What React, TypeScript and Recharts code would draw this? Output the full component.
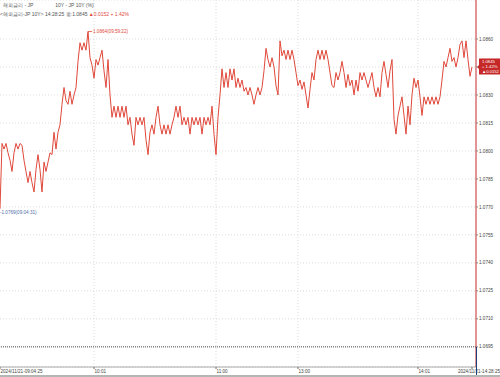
import { LineChart, Line, XAxis, YAxis, CartesianGrid, ReferenceLine, ReferenceDot } from 'recharts';

/* ── Data ─────────────────────────────────────────────────────────────── */

const symbol = '해외금리-JP 10Y';
const lastTime = '14:28:25';
const change = 0.0152;
const changePct = 1.42;
const highTime = '09:59:22';
const lowTime = '09:04:31';

// JP 10Y yield, one sample per step (09:04:25 → 14:28:25)
const prices = [
  1.0769, 1.0804, 1.0801, 1.0804, 1.0799, 1.0795, 1.0789, 1.0799, 1.0804, 1.0801,
  1.0804, 1.0803, 1.0795, 1.0789, 1.0783, 1.0789, 1.0783, 1.0778, 1.0790, 1.0798,
  1.0790, 1.0778, 1.0794, 1.0789, 1.0794, 1.0799, 1.0798, 1.0810, 1.0801, 1.0810,
  1.0814, 1.0825, 1.0834, 1.0827, 1.0825, 1.0832, 1.0825, 1.0830, 1.0834, 1.0848,
  1.0858, 1.0854, 1.0858, 1.0854, 1.0864, 1.0850, 1.0846, 1.0839, 1.0849, 1.0846,
  1.0850, 1.0854, 1.0843, 1.0834, 1.0849, 1.0830, 1.0818, 1.0824, 1.0818, 1.0824,
  1.0818, 1.0824, 1.0818, 1.0824, 1.0814, 1.0818, 1.0809, 1.0803, 1.0818, 1.0814,
  1.0818, 1.0814, 1.0818, 1.0806, 1.0798, 1.0810, 1.0814, 1.0809, 1.0818, 1.0824,
  1.0814, 1.0809, 1.0814, 1.0809, 1.0814, 1.0809, 1.0814, 1.0818, 1.0824, 1.0818,
  1.0824, 1.0814, 1.0818, 1.0814, 1.0818, 1.0809, 1.0818, 1.0814, 1.0818, 1.0814,
  1.0818, 1.0809, 1.0818, 1.0814, 1.0818, 1.0814, 1.0824, 1.0809, 1.0798, 1.0818,
  1.0830, 1.0844, 1.0834, 1.0842, 1.0834, 1.0844, 1.0838, 1.0844, 1.0834, 1.0839,
  1.0834, 1.0838, 1.0832, 1.0834, 1.0830, 1.0834, 1.0830, 1.0825, 1.0830, 1.0834,
  1.0830, 1.0834, 1.0843, 1.0855, 1.0849, 1.0845, 1.0850, 1.0845, 1.0835, 1.0830,
  1.0859, 1.0851, 1.0854, 1.0849, 1.0854, 1.0849, 1.0854, 1.0849, 1.0842, 1.0835,
  1.0838, 1.0833, 1.0837, 1.0830, 1.0823, 1.0833, 1.0842, 1.0838, 1.0849, 1.0854,
  1.0849, 1.0854, 1.0849, 1.0854, 1.0849, 1.0842, 1.0835, 1.0834, 1.0842, 1.0838,
  1.0842, 1.0848, 1.0842, 1.0834, 1.0841, 1.0835, 1.0838, 1.0830, 1.0838, 1.0832,
  1.0842, 1.0838, 1.0842, 1.0838, 1.0834, 1.0838, 1.0842, 1.0834, 1.0829, 1.0834,
  1.0829, 1.0842, 1.0848, 1.0841, 1.0834, 1.0843, 1.0849, 1.0817, 1.0809, 1.0819,
  1.0824, 1.0829, 1.0819, 1.0809, 1.0824, 1.0814, 1.0830, 1.0839, 1.0834, 1.0838,
  1.0829, 1.0819, 1.0829, 1.0825, 1.0829, 1.0825, 1.0829, 1.0825, 1.0829, 1.0825,
  1.0829, 1.0838, 1.0848, 1.0845, 1.0850, 1.0855, 1.0848, 1.0850, 1.0845, 1.0850,
  1.0857, 1.0859, 1.0850, 1.0859, 1.0849, 1.0840, 1.0845,
];

const timeTicks = [0, 47, 108, 149, 209, prices.length - 1];
const timeLabels = ['2024/11/21-09:04:25', '10:01', '11:00', '13:00', '14:01', '2024/11/21-14:28:25'];

const yTicks = [1.086, 1.0845, 1.083, 1.0815, 1.08, 1.0785, 1.077, 1.0755, 1.074, 1.0725, 1.071, 1.0695];

/* ── Helpers ──────────────────────────────────────────────────────────── */

const RED = '#e0483a';
const FONT = '"Liberation Sans", Arial, sans-serif';

const data = prices.map((p, i) => ({ idx: i, price: p }));
const last = prices[prices.length - 1];
const maxVal = Math.max(...prices);
const minVal = Math.min(...prices);
const maxIdx = prices.indexOf(maxVal);
const minIdx = prices.indexOf(minVal);

function TimeTick({ x, y, payload }: any) {
  const i = timeTicks.indexOf(payload.value);
  const label = timeLabels[i] ?? '';
  const isFirst = i === 0;
  const isLast = i === timeTicks.length - 1;
  return (
    <text
      x={isLast ? 500 : isFirst ? 0.5 : x + 0.5}
      y={y + 3.6}
      fontSize={4.6}
      fontFamily={FONT}
      fill="#444"
      textAnchor={isLast ? 'end' : 'start'}
    >
      {label}
    </text>
  );
}

function PriceTick({ x, y, payload }: any) {
  // the current-price box sits over this level
  if (Math.abs(payload.value - last) < 1e-6) return null;
  return (
    <text x={x} y={y + 1.6} fontSize={4.6} fontFamily={FONT} fill="#444" textAnchor="start">
      {payload.value.toFixed(4)}
    </text>
  );
}

function HighLabel({ viewBox }: any) {
  const cx = viewBox.x + viewBox.width / 2;
  const cy = viewBox.y + viewBox.height / 2;
  return (
    <g>
      <line x1={cx} y1={cy} x2={cx + 4} y2={cy} stroke={RED} strokeWidth={0.8} />
      <text x={cx + 5} y={cy + 1.6} fontSize={4.6} fontFamily={FONT} fill={RED}>
        {`${maxVal.toFixed(4)}(${highTime})`}
      </text>
    </g>
  );
}

function LowLabel({ viewBox }: any) {
  const cx = viewBox.x + viewBox.width / 2;
  const cy = viewBox.y + viewBox.height / 2;
  return (
    <text x={Math.max(cx, 0)} y={cy + 5.5} fontSize={4.6} fontFamily={FONT} fill="#4f6fa8">
      {`-${minVal.toFixed(4)}(${lowTime})`}
    </text>
  );
}

function LastLabel({ viewBox }: any) {
  const rx = viewBox.x + viewBox.width;
  const cy = viewBox.y;
  return (
    <g>
      <polygon points={`${rx + 1},${cy} ${rx + 4},${cy - 3} ${rx + 4},${cy + 3}`} fill="#c62828" />
      <rect x={rx + 3} y={cy - 8.5} width={24} height={16} fill="#c62828" />
      <text x={rx + 6} y={cy - 3.5} fontSize={4.2} fontFamily={FONT} fill="#fff">{last.toFixed(4)}</text>
      <text x={rx + 6} y={cy + 1.3} fontSize={4.2} fontFamily={FONT} fill="#fff">{`+ ${changePct.toFixed(2)}%`}</text>
      <text x={rx + 6} y={cy + 6.1} fontSize={4.2} fontFamily={FONT} fill="#fff">{`▲${change.toFixed(4)}`}</text>
    </g>
  );
}

/* ── Component ────────────────────────────────────────────────────────── */

export default function App() {
  return (
    <div style={{ position: 'fixed', left: 0, top: 0, width: 500, height: 377, background: '#fff', overflow: 'hidden' }}>
      <LineChart width={500} height={377} data={data} margin={{ top: 0, right: 0, bottom: 0, left: 0 }}>
        <CartesianGrid vertical={false} stroke="#dcdcdc" strokeDasharray="1 2" />
        {timeTicks.slice(1, -1).map((t) => (
          <ReferenceLine key={t} x={t} stroke="#dcdcdc" strokeDasharray="1 2" />
        ))}
        <ReferenceLine y={1.0695} stroke="#555" strokeDasharray="1 1" />
        <XAxis
          dataKey="idx"
          type="category"
          ticks={timeTicks}
          interval={0}
          height={10}
          padding={{ left: 0, right: 4 }}
          axisLine={{ stroke: '#a8a8a8' }}
          tickLine={{ stroke: '#777' }}
          tickSize={2}
          tickMargin={0}
          tick={<TimeTick />}
        />
        <YAxis
          orientation="right"
          width={24}
          domain={[1.06842, 1.08809]}
          allowDataOverflow
          ticks={yTicks}
          interval={0}
          axisLine={{ stroke: '#c62828' }}
          tickLine={{ stroke: '#888' }}
          tickSize={2}
          tickMargin={1}
          tick={<PriceTick />}
        />
        <Line
          type="linear"
          dataKey="price"
          stroke={RED}
          strokeWidth={1}
          dot={false}
          activeDot={false}
          isAnimationActive={false}
        />
        <ReferenceDot x={maxIdx} y={maxVal} r={1} fillOpacity={0} strokeOpacity={0} label={<HighLabel />} />
        <ReferenceDot x={minIdx} y={minVal} r={1} fillOpacity={0} strokeOpacity={0} label={<LowLabel />} />
        <ReferenceLine y={last} strokeOpacity={0} label={<LastLabel />} />
      </LineChart>

      {/* bottom part of the price axis and the axis band */}
      <div style={{ position: 'absolute', left: 476, top: 347, width: 1, height: 28, background: '#1f3f7a' }} />
      <div style={{ position: 'absolute', left: 0, top: 375, width: 500, height: 2, background: '#b5b5b5' }} />

      {/* header */}
      <div style={{ position: 'absolute', left: 3, top: 2, fontSize: 5, fontFamily: FONT, color: '#555', whiteSpace: 'nowrap' }}>
        해외금리 - JP
        <span style={{ marginLeft: 22 }}>10Y - JP 10Y (%)</span>
      </div>
      <div style={{ position: 'absolute', left: 0, top: 11, fontSize: 5, fontFamily: FONT, color: '#555', whiteSpace: 'nowrap' }}>
        {`<${symbol}> ${lastTime} 종:${last.toFixed(4)} `}
        <span style={{ color: RED }}>{`▲${change.toFixed(4)} + ${changePct.toFixed(2)}%`}</span>
      </div>
    </div>
  );
}
